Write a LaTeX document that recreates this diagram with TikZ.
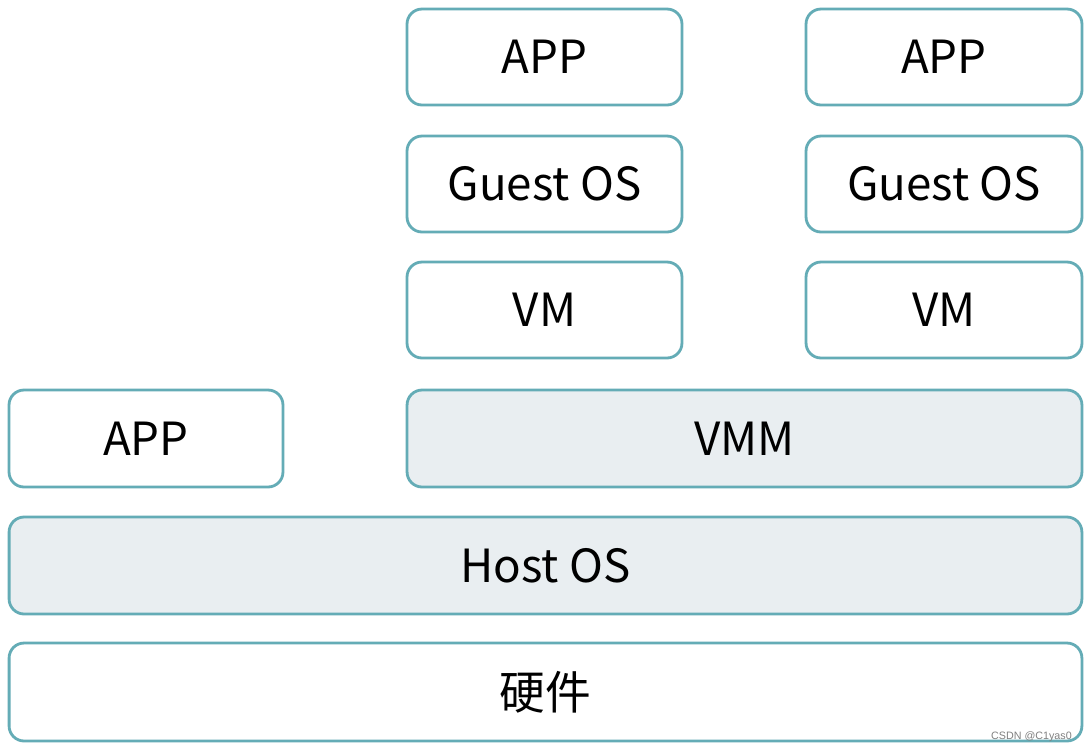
\documentclass[tikz,border=0pt]{standalone}
\usepackage{fontspec}
\setmainfont{Noto Sans CJK SC}
\newfontfamily\wmfont{Liberation Sans}
\usepackage{xcolor}
\usepackage{tikz}
\definecolor{edgeteal}{RGB}{100,172,182}
\definecolor{layergray}{RGB}{233,238,241}
\tikzstyle{layer}=[draw=edgeteal,line width=1.6pt,rounded corners=0.3cm,fill=white,inner sep=0pt,minimum height=1.92cm,font=\fontsize{26}{30}\selectfont]
\tikzstyle{shared}=[layer,fill=layergray]

\begin{document}
\begin{tikzpicture}[x=0.02cm,y=-0.02cm]
					\useasboundingbox[fill=white] (0,0) rectangle (1088,752);
					% guest stacks
					\node [layer,minimum width=5.5cm] (app1) at (544.5,57) {APP};
					\node [layer,minimum width=5.5cm] (guest1) at (544.5,184) {Guest OS};
					\node [layer,minimum width=5.5cm] (vm1) at (544.5,310) {VM};
					\node [layer,minimum width=5.52cm] (app2) at (944,57) {APP};
					\node [layer,minimum width=5.52cm] (guest2) at (944,184) {Guest OS};
					\node [layer,minimum width=5.52cm] (vm2) at (944,310) {VM};
					% host side
					\node [layer,minimum width=5.48cm,minimum height=1.94cm] (app0) at (146,438.5) {APP};
					\node [shared,minimum width=13.5cm,minimum height=1.94cm] (vmm) at (744.5,438.5) {VMM};
					\node [shared,minimum width=21.46cm,minimum height=1.94cm] (host) at (545.5,565.5) {Host OS};
					\node [layer,minimum width=21.46cm,minimum height=1.96cm] (hw) at (545.5,692) {硬件};
					\node [text=gray,font=\wmfont\fontsize{6.1}{7}\selectfont,inner sep=0pt] (mark) at (1031.5,737) {CSDN @C1yas0};
					\end{tikzpicture}
\end{document}
